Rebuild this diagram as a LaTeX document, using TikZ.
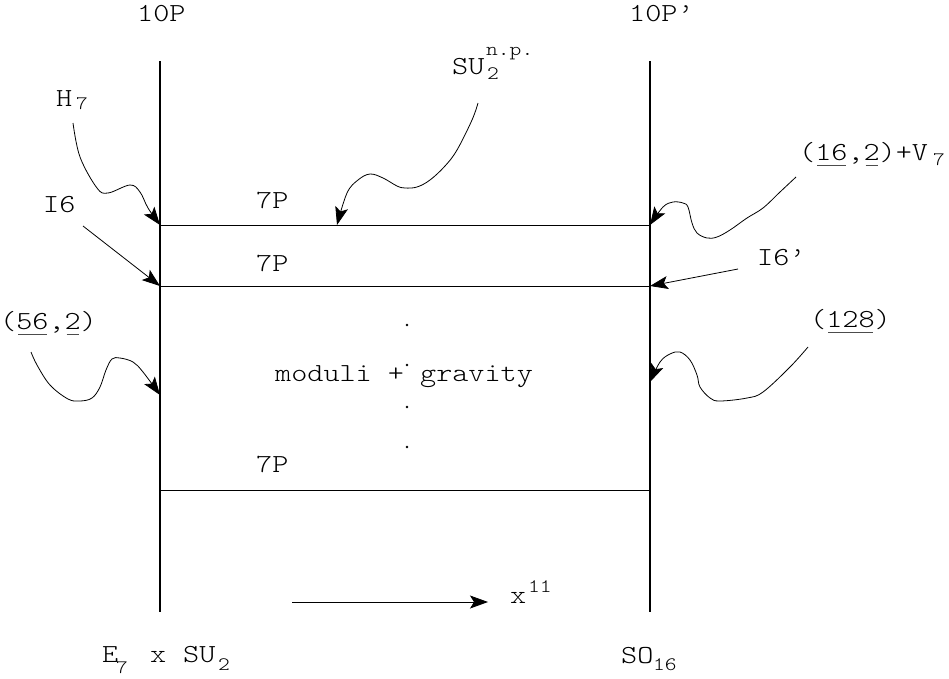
\documentclass[tikz,border=0pt]{standalone}
\usepackage{fontspec}
\setmainfont{lmmonolt10-regular.otf}[FakeStretch=1.18]
\usetikzlibrary{arrows.meta}
\newcommand\myul[1]{\setbox0\hbox{#1}\rlap{\hskip2pt{\color{black!70}\rule[-6pt]{\dimexpr\wd0-4pt\relax}{0.9pt}}}\box0}
\tikzset{
  lbl/.style={inner sep=0pt, anchor=base west, font=\fontsize{26}{26}\selectfont},
  sml/.style={inner sep=0pt, anchor=base west, font=\fontsize{19}{19}\selectfont},
  wall/.style={line width=1.1pt},
  brane/.style={line width=0.9pt},
  arr/.style={line width=0.8pt, -{Stealth[length=18pt,width=13pt,inset=4pt]}},
  dotmark/.style={fill=black, draw=none},
}
\begin{document}
\begin{tikzpicture}[x=1pt,y=-1pt]
\useasboundingbox (0,0) rectangle (949,678);
\fill[white] (0,0) rectangle (949,678);

% walls and branes
\coordinate (lt) at (160,61);  \coordinate (lb) at (160,612);
\coordinate (rt) at (650,61);  \coordinate (rb) at (650,612);
\draw[wall] (lt) -- (lb);
\draw[wall] (rt) -- (rb);
\coordinate (b1l) at (160,225); \coordinate (b1r) at (650,225);
\coordinate (b2l) at (160,286); \coordinate (b2r) at (650,286);
\coordinate (b3l) at (160,490); \coordinate (b3r) at (650,490);
\draw[brane] (b1l) -- (b1r);
\draw[brane] (b2l) -- (b2r);
\draw[brane] (b3l) -- (b3r);

% top labels
\node[lbl] (tenp) at (137,21) {10P};
\node[lbl] (tenpp) at (629,21) {10P’};

% SU2 n.p.
\node[lbl] (su) at (452,74) {SU};
\node[sml] (su2) at (487,79) {2};
\node[sml] (np) at (486,55) {n.p.};

% H7
\node[lbl] (h) at (56,106) {H};
\node[sml] (h7) at (76,109) {7};

% I6
\node[lbl] (isix) at (43,212) {I6};
% I6'
\node[lbl] (isixp) at (757,265) {I6’};

% (16,2)+V7
\node[lbl] (sixteen) at (799,160) {(\myul{16},\myul{2})+V};
\node[sml] (v7) at (933,165) {7};

% (56,2)
\node[lbl] (fiftysix) at (0,329) {(\myul{56},\myul{2})};
% (128)
\node[lbl] (spin) at (810,327) {(\myul{128})};

% 7P labels
\node[lbl] (p1) at (256,208) {7P};
\node[lbl] (p2) at (256,271) {7P};
\node[lbl] (p3) at (256,472) {7P};

% moduli + gravity
\node[lbl] (mod) at (275,381) {moduli + gravity};
\fill[dotmark] (407,325) circle (1.3);
\fill[dotmark] (407,365) circle (1.3);
\fill[dotmark] (407,407) circle (1.3);
\fill[dotmark] (407,447) circle (1.3);

% bottom labels
\node[lbl] (e) at (102,662) {E};
\node[sml] (e7) at (116,673) {7};
\node[lbl] (times) at (150,662) {x};
\node[lbl] (su2b) at (183,662) {SU};
\node[sml] (su2bsub) at (218,670) {2};
\node[lbl] (so) at (621,663) {SO};
\node[sml] (so16) at (653,670) {16};
\node[lbl] (xe) at (510,603) {x};
\node[sml] (x11) at (528,592) {11};

% x11 arrow
\coordinate (xs) at (292,602);
\coordinate (xt) at (488,602);
\draw[arr] (xs) -- (xt);

% H7 arrow
\coordinate (h7s) at (73,123);
\draw[arr] plot[smooth, tension=0.6] coordinates {(h7s) (80,157) (97,188) (108,193) (130,185) (140,192) (148,208) (b1l)};

% I6 arrow
\coordinate (i6s) at (83,226);
\draw[arr] (i6s) -- (b2l);

% SU2 arrow
\coordinate (sus) at (478,103);
\coordinate (sue) at (337,225);
\draw[arr] plot[smooth, tension=0.6] coordinates {(sus) (472,120) (457,150) (445,166) (430,180) (417,187) (405,188) (397,186) (383,178) (370,174) (358,180) (347,193) (sue)};

% (16,2)+V7 arrow
\coordinate (vs) at (796,177);
\draw[arr] plot[smooth, tension=0.6] coordinates {(vs) (780,192) (763,208) (747,218) (730,230) (717,237) (707,238) (697,233) (692,223) (688,207) (683,203) (673,202) (663,207) (b1r)};

% I6' arrow
\coordinate (i6ps) at (738,269);
\draw[arr] (i6ps) -- (b2r);

% (56,2) arrow
\coordinate (fs) at (31,352);
\coordinate (fe) at (160,395);
\draw[arr] plot[smooth, tension=0.6] coordinates {(fs) (37,365) (50,385) (68,399) (80,401) (92,398) (100,387) (106,370) (112,359) (120,358) (133,362) (143,372) (fe)};

% (128) arrow
\coordinate (ss) at (808,347);
\coordinate (se) at (650,382);
\draw[arr] plot[smooth, tension=0.6] coordinates {(ss) (790,367) (763,392) (747,398) (720,401) (710,398) (700,387) (697,375) (690,360) (680,352) (670,354) (660,362) (se)};
\end{tikzpicture}
\end{document}
